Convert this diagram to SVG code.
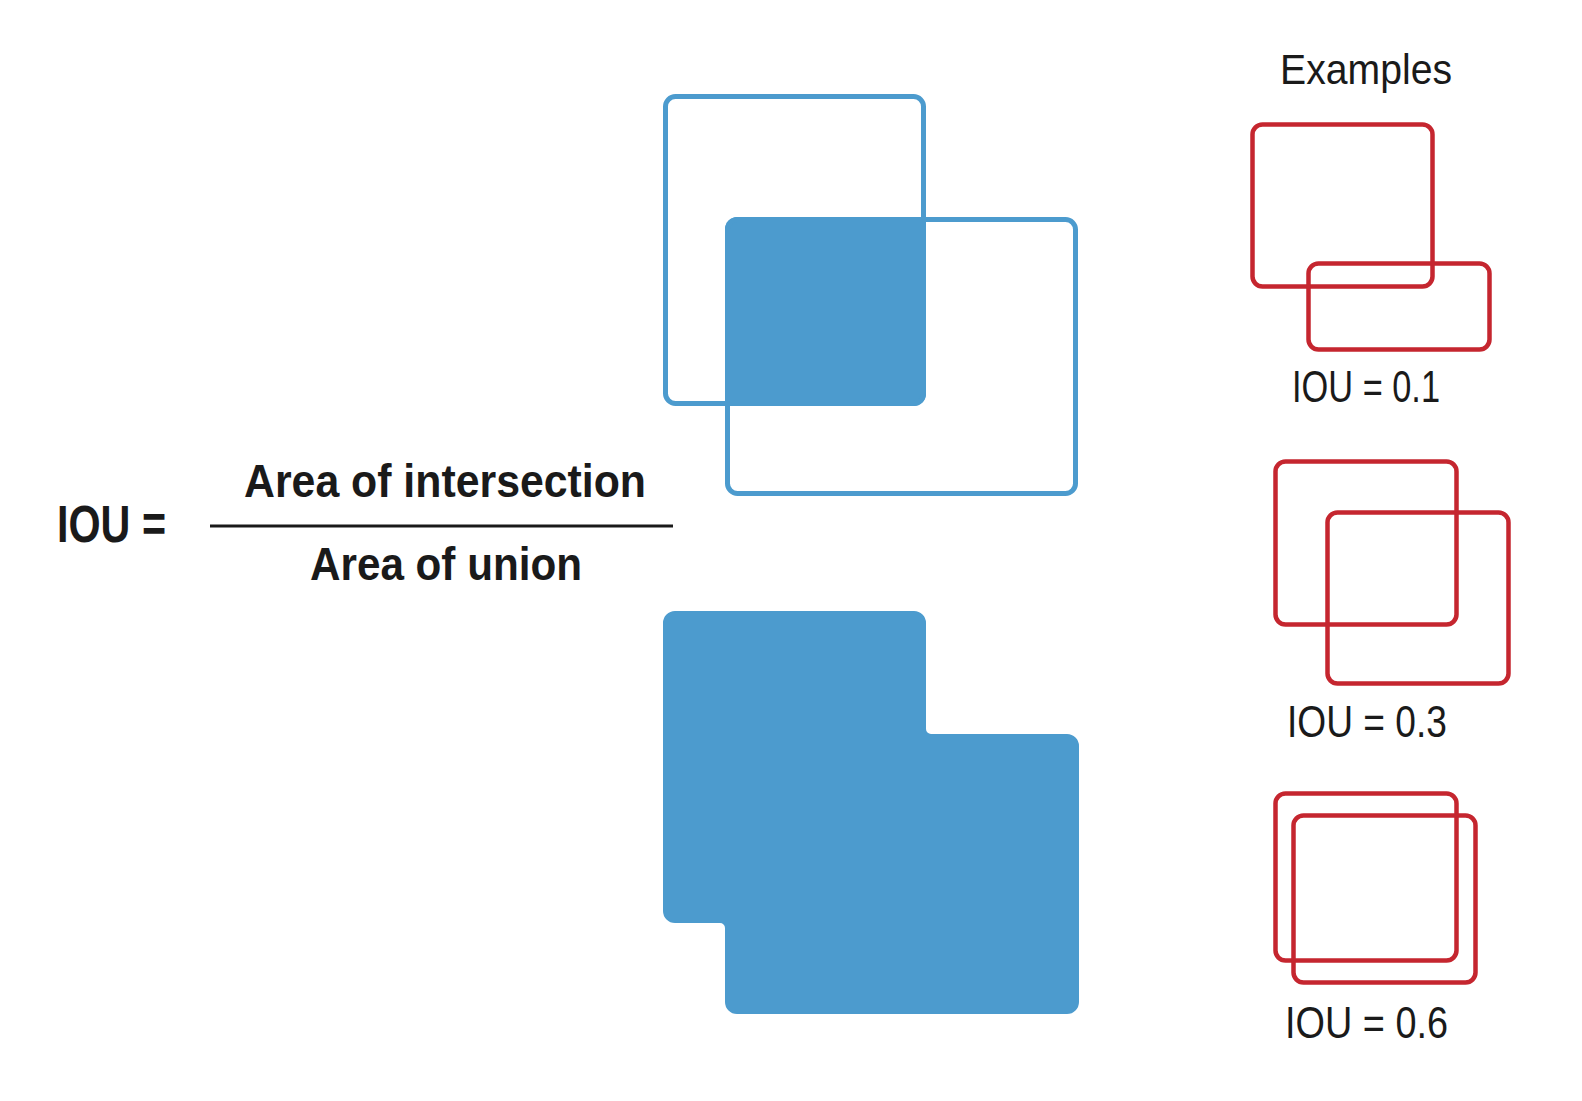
<svg xmlns="http://www.w3.org/2000/svg" width="1582" height="1101" viewBox="0 0 1582 1101">
<style>
.t{font-family:"Liberation Sans Narrow","Liberation Sans",Arial,sans-serif;fill:#1a1a1a}
.b{font-weight:bold}
.bo{fill:none;stroke:#4c9bce;stroke-width:5}
.bf{fill:#4c9bce}
.r{fill:none;stroke:#c5262f;stroke-width:4.5}
</style>
<rect width="1582" height="1101" fill="#ffffff"/>
<g id="formula">
<text class="t b" x="57" y="542" font-size="51" textLength="109" lengthAdjust="spacingAndGlyphs">IOU =</text>
<text class="t b" x="244" y="497" font-size="47" textLength="402" lengthAdjust="spacingAndGlyphs">Area of intersection</text>
<line x1="210" y1="526" x2="673" y2="526" stroke="#1a1a1a" stroke-width="3"/>
<text class="t b" x="310" y="580" font-size="47" textLength="272" lengthAdjust="spacingAndGlyphs">Area of union</text>
</g>
<g id="intersection">
<path class="bf" d="M737,217 H926 V394 A12,12 0 0 1 914,406 H725 V229 A12,12 0 0 1 737,217 Z"/>
<rect class="bo" x="665.5" y="96.5" width="258" height="307" rx="10"/>
<rect class="bo" x="727.5" y="219.5" width="348" height="274" rx="10"/>
</g>
<g id="union">
<path class="bf" d="M675,611 H914 A12,12 0 0 1 926,623 V729 A5,5 0 0 0 931,734 H1067 A12,12 0 0 1 1079,746 V1002 A12,12 0 0 1 1067,1014 H737 A12,12 0 0 1 725,1002 V928 A5,5 0 0 0 720,923 H675 A12,12 0 0 1 663,911 V623 A12,12 0 0 1 675,611 Z"/>
</g>
<g id="examples">
<text class="t" x="1280" y="84" font-size="42" textLength="172" lengthAdjust="spacingAndGlyphs">Examples</text>
</g>
<g id="example-1">
<rect class="r" x="1252.5" y="124.5" width="180" height="162" rx="10"/>
<rect class="r" x="1308.5" y="263.5" width="181" height="86" rx="10"/>
<text class="t" x="1292" y="402" font-size="45" textLength="148" lengthAdjust="spacingAndGlyphs">IOU = 0.1</text>
</g>
<g id="example-2">
<rect class="r" x="1275.5" y="461.5" width="181" height="163" rx="10"/>
<rect class="r" x="1327.5" y="512.5" width="181" height="171" rx="10"/>
<text class="t" x="1287" y="737" font-size="45" textLength="160" lengthAdjust="spacingAndGlyphs">IOU = 0.3</text>
</g>
<g id="example-3">
<rect class="r" x="1275.5" y="793.5" width="181" height="167" rx="10"/>
<rect class="r" x="1293.5" y="815.5" width="182" height="167" rx="10"/>
<text class="t" x="1285" y="1038" font-size="45" textLength="163" lengthAdjust="spacingAndGlyphs">IOU = 0.6</text>
</g>
<g id="connectors"></g>
</svg>
